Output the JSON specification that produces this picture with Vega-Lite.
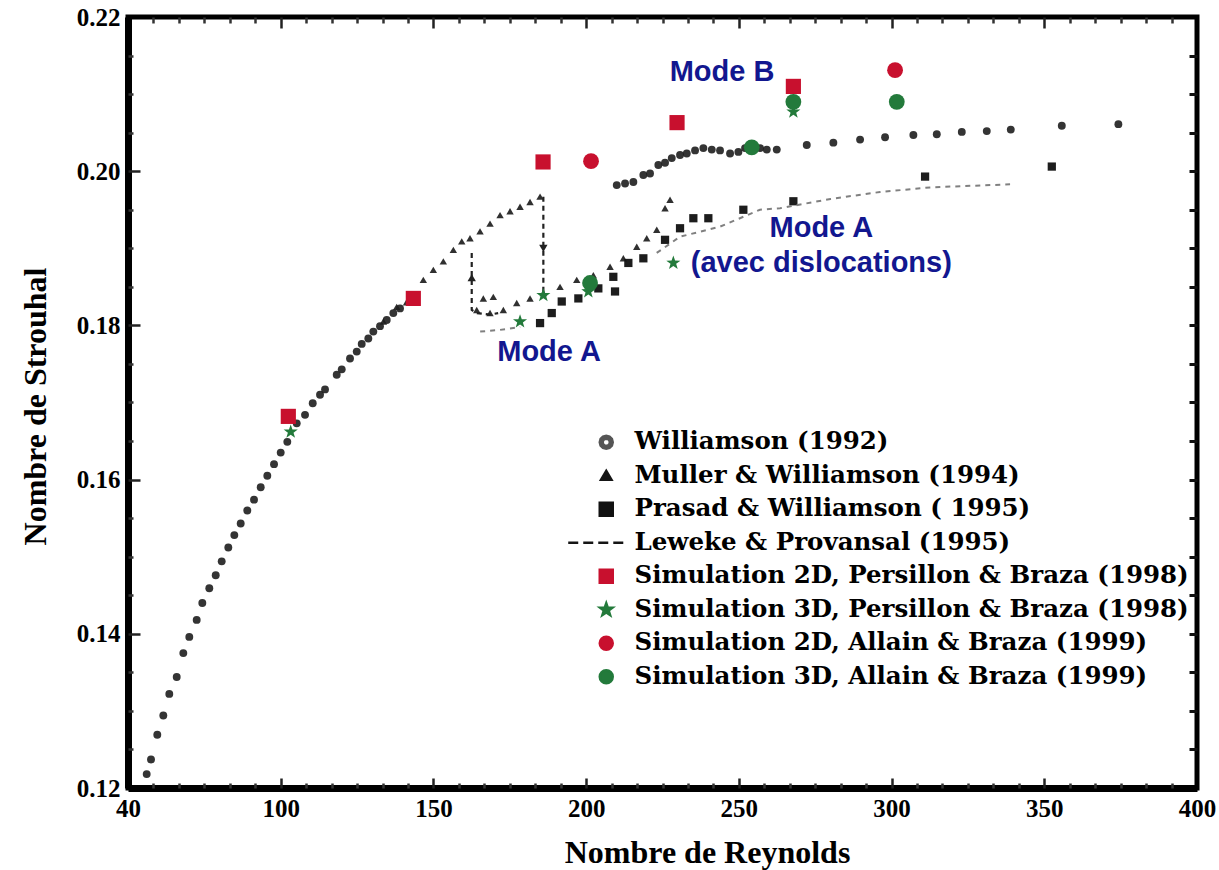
{
  "$schema": "https://vega.github.io/schema/vega-lite/v6.json",
  "width": 1069,
  "height": 771,
  "autosize": {"type": "none"},
  "padding": {"left": 128, "top": 17, "right": 22, "bottom": 82},
  "background": "white",
  "config": {
    "view": {"stroke": "black", "strokeWidth": 5},
    "axis": {"grid": false, "labelFont": "Liberation Serif", "labelFontWeight": "bold", "labelFontSize": 25, "labelColor": "black", "titleFont": "Liberation Serif", "titleFontWeight": "bold", "titleFontSize": 32, "titleColor": "black"}
  },
  "resolve": {"axis": {"x": "independent", "y": "independent"}},
  "datasets": {
    "williamson": [
      {"Re": 56.12, "St": 0.1218}, {"Re": 57.53, "St": 0.1237}, {"Re": 59.59, "St": 0.1269}, {"Re": 61.56, "St": 0.1294},
      {"Re": 63.52, "St": 0.1322}, {"Re": 65.95, "St": 0.1344}, {"Re": 68.11, "St": 0.1375}, {"Re": 70.07, "St": 0.1396},
      {"Re": 72.49, "St": 0.1418}, {"Re": 74.33, "St": 0.144}, {"Re": 76.62, "St": 0.1459}, {"Re": 78.72, "St": 0.1476},
      {"Re": 80.68, "St": 0.1494}, {"Re": 82.84, "St": 0.1512}, {"Re": 84.81, "St": 0.1528}, {"Re": 86.9, "St": 0.1543},
      {"Re": 89.06, "St": 0.156}, {"Re": 91.26, "St": 0.1574}, {"Re": 93.45, "St": 0.159}, {"Re": 95.61, "St": 0.1605},
      {"Re": 97.81, "St": 0.162}, {"Re": 100.0, "St": 0.1635}, {"Re": 102.16, "St": 0.1649}, {"Re": 105.24, "St": 0.1673},
      {"Re": 107.96, "St": 0.1684}, {"Re": 110.48, "St": 0.1699}, {"Re": 112.87, "St": 0.171}, {"Re": 114.51, "St": 0.1717},
      {"Re": 118.34, "St": 0.1736}, {"Re": 119.98, "St": 0.1743}, {"Re": 122.69, "St": 0.1757}, {"Re": 124.89, "St": 0.1766},
      {"Re": 126.52, "St": 0.1776}, {"Re": 128.68, "St": 0.1783}, {"Re": 130.32, "St": 0.1792}, {"Re": 132.51, "St": 0.1799},
      {"Re": 134.71, "St": 0.1807}, {"Re": 136.87, "St": 0.1816}, {"Re": 139.06, "St": 0.1822},
      {"Re": 210.02, "St": 0.1982}, {"Re": 212.74, "St": 0.1984}, {"Re": 215.46, "St": 0.1986}, {"Re": 218.73, "St": 0.1995},
      {"Re": 220.92, "St": 0.1997}, {"Re": 223.64, "St": 0.2008}, {"Re": 225.83, "St": 0.2011}, {"Re": 228.03, "St": 0.2017},
      {"Re": 230.74, "St": 0.2021}, {"Re": 232.94, "St": 0.2023}, {"Re": 235.66, "St": 0.2027}, {"Re": 238.38, "St": 0.203},
      {"Re": 241.13, "St": 0.2028}, {"Re": 243.84, "St": 0.2027}, {"Re": 247.12, "St": 0.2023}, {"Re": 249.84, "St": 0.2025},
      {"Re": 252.03, "St": 0.203}, {"Re": 256.94, "St": 0.203}, {"Re": 259.14, "St": 0.2028}, {"Re": 262.41, "St": 0.2028},
      {"Re": 272.23, "St": 0.2034}, {"Re": 280.94, "St": 0.2037}, {"Re": 289.69, "St": 0.2041}, {"Re": 297.87, "St": 0.2044},
      {"Re": 307.14, "St": 0.2047}, {"Re": 314.8, "St": 0.2048}, {"Re": 322.99, "St": 0.2051}, {"Re": 331.17, "St": 0.2052},
      {"Re": 339.03, "St": 0.2054}, {"Re": 355.73, "St": 0.2059}, {"Re": 374.26, "St": 0.2061}
    ],
    "muller": [
      {"Re": 133.6, "St": 0.1805}, {"Re": 137.98, "St": 0.1824}, {"Re": 141.2, "St": 0.183}, {"Re": 146.69, "St": 0.1859},
      {"Re": 149.97, "St": 0.1872}, {"Re": 153.24, "St": 0.1883}, {"Re": 156.52, "St": 0.1898}, {"Re": 159.27, "St": 0.1909},
      {"Re": 161.98, "St": 0.1913}, {"Re": 165.26, "St": 0.1922}, {"Re": 168.53, "St": 0.1932}, {"Re": 171.81, "St": 0.1943},
      {"Re": 175.08, "St": 0.1948}, {"Re": 178.36, "St": 0.1954}, {"Re": 181.63, "St": 0.196}, {"Re": 184.91, "St": 0.1967},
      {"Re": 164.18, "St": 0.182}, {"Re": 166.34, "St": 0.1835}, {"Re": 169.61, "St": 0.1837}, {"Re": 168.53, "St": 0.1816},
      {"Re": 172.89, "St": 0.182}, {"Re": 177.27, "St": 0.1829}, {"Re": 181.63, "St": 0.1835}, {"Re": 185.99, "St": 0.1842},
      {"Re": 191.45, "St": 0.185}, {"Re": 196.92, "St": 0.1859}, {"Re": 202.36, "St": 0.1865}, {"Re": 207.83, "St": 0.1876},
      {"Re": 212.18, "St": 0.1887}, {"Re": 216.57, "St": 0.1902}, {"Re": 219.84, "St": 0.1913}, {"Re": 223.12, "St": 0.1924},
      {"Re": 225.83, "St": 0.1952}, {"Re": 227.47, "St": 0.1963}
    ],
    "prasad": [
      {"Re": 184.91, "St": 0.1803}, {"Re": 188.74, "St": 0.1816}, {"Re": 192.01, "St": 0.1831}, {"Re": 197.45, "St": 0.1835},
      {"Re": 203.99, "St": 0.1848}, {"Re": 208.9, "St": 0.1863}, {"Re": 209.46, "St": 0.1844}, {"Re": 213.82, "St": 0.1881},
      {"Re": 218.73, "St": 0.1887}, {"Re": 225.83, "St": 0.1911}, {"Re": 230.74, "St": 0.1926}, {"Re": 235.1, "St": 0.1939},
      {"Re": 240.01, "St": 0.1939}, {"Re": 251.47, "St": 0.195}, {"Re": 267.85, "St": 0.1961}, {"Re": 310.97, "St": 0.1993},
      {"Re": 352.46, "St": 0.2006}
    ],
    "leweke": [
      {"Re": 165.3, "St": 0.1792, "seg": "a"}, {"Re": 171.5, "St": 0.1794, "seg": "a"}, {"Re": 178.4, "St": 0.1798, "seg": "a"},
      {"Re": 223.1, "St": 0.1894, "seg": "b"}, {"Re": 230.7, "St": 0.1915, "seg": "b"}, {"Re": 243.8, "St": 0.1928, "seg": "b"},
      {"Re": 256.9, "St": 0.195, "seg": "b"}, {"Re": 263.5, "St": 0.1952, "seg": "b"}, {"Re": 280, "St": 0.1964, "seg": "b"},
      {"Re": 296.2, "St": 0.1973, "seg": "b"}, {"Re": 312.6, "St": 0.1979, "seg": "b"}, {"Re": 338.8, "St": 0.1983, "seg": "b"}
    ],
    "hyst": [
      {"Re": 185.99, "St": 0.1967, "seg": "R", "o": 1}, {"Re": 185.99, "St": 0.1842, "seg": "R", "o": 2},
      {"Re": 162.54, "St": 0.1894, "seg": "L", "o": 1}, {"Re": 162.54, "St": 0.182, "seg": "L", "o": 2},
      {"Re": 164.2, "St": 0.1816, "seg": "L", "o": 3}, {"Re": 168.5, "St": 0.1814, "seg": "L", "o": 4},
      {"Re": 171.2, "St": 0.1816, "seg": "L", "o": 5}
    ],
    "arrows": [
      {"Re": 185.99, "St": 0.19, "dir": "down"},
      {"Re": 162.54, "St": 0.1862, "dir": "up"}
    ],
    "sims": [
      {"Re": 103.27, "St": 0.1662, "series": "3DP"}, {"Re": 178.36, "St": 0.1805, "series": "3DP"},
      {"Re": 185.99, "St": 0.1839, "series": "3DP"}, {"Re": 200.72, "St": 0.1844, "series": "3DP"},
      {"Re": 228.55, "St": 0.1881, "series": "3DP"}, {"Re": 267.85, "St": 0.2077, "series": "3DP"},
      {"Re": 201.28, "St": 0.1855, "series": "3DA"}, {"Re": 254.22, "St": 0.2031, "series": "3DA"},
      {"Re": 267.85, "St": 0.209, "series": "3DA"}, {"Re": 301.7, "St": 0.209, "series": "3DA"},
      {"Re": 102.49, "St": 0.1682, "series": "2DP"}, {"Re": 143.42, "St": 0.1835, "series": "2DP"},
      {"Re": 185.89, "St": 0.2012, "series": "2DP"}, {"Re": 229.76, "St": 0.2063, "series": "2DP"},
      {"Re": 267.85, "St": 0.211, "series": "2DP"},
      {"Re": 201.6, "St": 0.2013, "series": "2DA"}, {"Re": 301.15, "St": 0.2131, "series": "2DA"}
    ],
    "notes": [
      {"Re": 244.5, "St": 0.2129, "label": "Mode B"},
      {"Re": 187.85, "St": 0.1766, "label": "Mode A"},
      {"Re": 277, "St": 0.1926, "label": "Mode A"},
      {"Re": 277, "St": 0.1881, "label": "(avec dislocations)"}
    ],
    "keyrows": [
      {"series": "Williamson (1992)"},
      {"series": "Muller & Williamson (1994)"},
      {"series": "Prasad & Williamson ( 1995)"},
      {"series": "Leweke & Provansal (1995)"},
      {"series": "Simulation 2D, Persillon & Braza (1998)"},
      {"series": "Simulation 3D, Persillon & Braza (1998)"},
      {"series": "Simulation 2D, Allain & Braza (1999)"},
      {"series": "Simulation 3D, Allain & Braza (1999)"}
    ]
  },
  "layer": [
    {
      "data": {"name": "williamson"},
      "mark": {"type": "point", "filled": true, "shape": "circle", "size": 62, "color": "#1e1e1e", "opacity": 0.9},
      "encoding": {
        "x": {"field": "Re", "type": "quantitative", "scale": {"domain": [50, 400], "nice": false, "zero": false},
          "axis": {"orient": "bottom", "values": [50, 100, 150, 200, 250, 300, 350, 400], "labelExpr": "datum.value == 50 ? '40' : datum.label", "ticks": false, "domain": true, "domainColor": "black", "domainWidth": 7, "labelPadding": 8, "labelFlush": false, "labelOverlap": false, "title": "Nombre de Reynolds", "titleX": 579, "titleY": 64, "titleBaseline": "middle", "titleAlign": "center"}},
        "y": {"field": "St", "type": "quantitative", "scale": {"domain": [0.12, 0.22], "nice": false, "zero": false},
          "axis": {"orient": "left", "values": [0.12, 0.14, 0.16, 0.18, 0.2, 0.22], "format": ".2f", "ticks": false, "domain": true, "domainColor": "black", "domainWidth": 7, "labelPadding": 8, "labelFlush": false, "labelOverlap": false, "title": "Nombre de Strouhal", "titleX": -93, "titleY": 389, "titleAngle": 270, "titleBaseline": "middle", "titleAlign": "center"}}
      }
    },
    {
      "data": {"name": "muller"},
      "mark": {"type": "point", "filled": true, "shape": "triangle-up", "size": 55, "color": "#1e1e1e", "opacity": 0.92},
      "encoding": {
        "x": {"field": "Re", "type": "quantitative",
          "axis": {"orient": "bottom", "offset": -10, "values": [100, 150, 200, 250, 300, 350], "labels": false, "domain": false, "ticks": true, "tickSize": 10, "tickWidth": 2.5, "tickColor": "#222", "title": null}},
        "y": {"field": "St", "type": "quantitative",
          "axis": {"orient": "left", "offset": -12, "values": [0.14, 0.16, 0.18, 0.2], "labels": false, "domain": false, "ticks": true, "tickSize": 12, "tickWidth": 2.5, "tickColor": "#222", "title": null}}
      }
    },
    {
      "data": {"name": "prasad"},
      "mark": {"type": "point", "filled": true, "shape": "square", "size": 68, "color": "#111111", "opacity": 0.95},
      "encoding": {
        "x": {"field": "Re", "type": "quantitative",
          "axis": {"orient": "bottom", "offset": -5, "values": [58.333, 66.667, 75, 83.333, 91.667, 108.333, 116.667, 125, 133.333, 141.667, 158.333, 166.667, 175, 183.333, 191.667, 208.333, 216.667, 225, 233.333, 241.667, 258.333, 266.667, 275, 283.333, 291.667, 308.333, 316.667, 325, 333.333, 341.667, 358.333, 366.667, 375, 383.333, 391.667], "labels": false, "domain": false, "ticks": true, "tickSize": 5, "tickWidth": 2.5, "tickColor": "#333", "title": null}},
        "y": {"field": "St", "type": "quantitative",
          "axis": {"orient": "left", "offset": -5, "values": [0.125, 0.13, 0.135, 0.145, 0.15, 0.155, 0.165, 0.17, 0.175, 0.185, 0.19, 0.195, 0.205, 0.21, 0.215], "labels": false, "domain": false, "ticks": true, "tickSize": 5, "tickWidth": 2.5, "tickColor": "#333", "title": null}}
      }
    },
    {
      "data": {"name": "leweke"},
      "mark": {"type": "line", "stroke": "#808080", "strokeWidth": 2, "strokeDash": [5, 5]},
      "encoding": {
        "x": {"field": "Re", "type": "quantitative",
          "axis": {"orient": "top", "offset": -6, "values": [58.333, 66.667, 75, 83.333, 91.667, 108.333, 116.667, 125, 133.333, 141.667, 158.333, 166.667, 175, 183.333, 191.667, 208.333, 216.667, 225, 233.333, 241.667, 258.333, 266.667, 275, 283.333, 291.667, 308.333, 316.667, 325, 333.333, 341.667, 358.333, 366.667, 375, 383.333, 391.667], "labels": false, "domain": false, "ticks": true, "tickSize": 6, "tickWidth": 2.5, "tickColor": "#333", "title": null}},
        "y": {"field": "St", "type": "quantitative", "axis": null},
        "detail": {"field": "seg", "type": "nominal"}
      }
    },
    {
      "data": {"name": "hyst"},
      "mark": {"type": "line", "stroke": "#222222", "strokeWidth": 2.2, "strokeDash": [5, 4]},
      "encoding": {
        "x": {"field": "Re", "type": "quantitative",
          "axis": {"orient": "top", "offset": -11, "values": [100, 150, 200, 250, 300, 350], "labels": false, "domain": false, "ticks": true, "tickSize": 11, "tickWidth": 2.5, "tickColor": "#222", "title": null}},
        "y": {"field": "St", "type": "quantitative",
          "axis": {"orient": "right", "offset": -8, "values": [0.125, 0.13, 0.135, 0.14, 0.145, 0.15, 0.155, 0.16, 0.165, 0.17, 0.175, 0.18, 0.185, 0.19, 0.195, 0.2, 0.205, 0.21, 0.215], "labels": false, "domain": false, "ticks": true, "tickSize": 8, "tickWidth": 3, "tickColor": "#111", "title": null}},
        "detail": {"field": "seg", "type": "nominal"},
        "order": {"field": "o", "type": "quantitative"}
      }
    },
    {
      "data": {"name": "arrows"},
      "transform": [{"filter": "datum.dir == 'down'"}],
      "mark": {"type": "point", "filled": true, "shape": "triangle-down", "size": 70, "color": "#222222", "opacity": 1},
      "encoding": {
        "x": {"field": "Re", "type": "quantitative", "axis": null},
        "y": {"field": "St", "type": "quantitative", "axis": null}
      }
    },
    {
      "data": {"name": "arrows"},
      "transform": [{"filter": "datum.dir == 'up'"}],
      "mark": {"type": "point", "filled": true, "shape": "triangle-up", "size": 70, "color": "#222222", "opacity": 1},
      "encoding": {
        "x": {"field": "Re", "type": "quantitative", "axis": null},
        "y": {"field": "St", "type": "quantitative", "axis": null}
      }
    },
    {
      "data": {"name": "sims"},
      "transform": [{"filter": "datum.series == '3DP'"}],
      "mark": {"type": "point", "filled": true, "shape": "M0,-1L0.235,-0.324L0.951,-0.309L0.38,0.124L0.588,0.809L0,0.4L-0.588,0.809L-0.38,0.124L-0.951,-0.309L-0.235,-0.324Z", "size": 220, "color": "#237a3b", "opacity": 1},
      "encoding": {
        "x": {"field": "Re", "type": "quantitative", "axis": null},
        "y": {"field": "St", "type": "quantitative", "axis": null}
      }
    },
    {
      "data": {"name": "sims"},
      "transform": [{"filter": "datum.series == '3DA'"}],
      "mark": {"type": "point", "filled": true, "shape": "circle", "size": 250, "color": "#237a3b", "opacity": 1},
      "encoding": {
        "x": {"field": "Re", "type": "quantitative", "axis": null},
        "y": {"field": "St", "type": "quantitative", "axis": null}
      }
    },
    {
      "data": {"name": "sims"},
      "transform": [{"filter": "datum.series == '2DP'"}],
      "mark": {"type": "point", "filled": true, "shape": "square", "size": 230, "color": "#c8102e", "opacity": 1},
      "encoding": {
        "x": {"field": "Re", "type": "quantitative", "axis": null},
        "y": {"field": "St", "type": "quantitative", "axis": null}
      }
    },
    {
      "data": {"name": "sims"},
      "transform": [{"filter": "datum.series == '2DA'"}],
      "mark": {"type": "point", "filled": true, "shape": "circle", "size": 250, "color": "#c8102e", "opacity": 1},
      "encoding": {
        "x": {"field": "Re", "type": "quantitative", "axis": null},
        "y": {"field": "St", "type": "quantitative", "axis": null}
      }
    },
    {
      "data": {"name": "notes"},
      "mark": {"type": "text", "font": "Liberation Sans", "fontWeight": "bold", "fontSize": 29, "color": "#12178f", "align": "center", "baseline": "middle"},
      "encoding": {
        "x": {"field": "Re", "type": "quantitative", "axis": null},
        "y": {"field": "St", "type": "quantitative", "axis": null},
        "text": {"field": "label", "type": "nominal"}
      }
    },
    {
      "data": {"name": "keyrows"},
      "mark": {"type": "point", "filled": true, "strokeWidth": 2.5},
      "encoding": {
        "fill": {"field": "series", "type": "nominal",
          "scale": {"domain": ["Williamson (1992)", "Muller & Williamson (1994)", "Prasad & Williamson ( 1995)", "Leweke & Provansal (1995)", "Simulation 2D, Persillon & Braza (1998)", "Simulation 3D, Persillon & Braza (1998)", "Simulation 2D, Allain & Braza (1999)", "Simulation 3D, Allain & Braza (1999)"],
            "range": ["#555555", "#151515", "#111111", "#151515", "#c8102e", "#237a3b", "#c8102e", "#237a3b"]},
          "legend": {"orient": "none", "legendX": 466, "legendY": 413, "title": null, "padding": 0, "labelFont": "DejaVu Serif", "labelFontWeight": "bold", "labelFontSize": 24.5, "labelColor": "black", "labelLimit": 800, "labelOffset": 16, "rowPadding": 8.5, "symbolSize": 169, "symbolStrokeWidth": 2.5, "symbolOpacity": 1}},
        "stroke": {"field": "series", "type": "nominal",
          "scale": {"domain": ["Williamson (1992)", "Muller & Williamson (1994)", "Prasad & Williamson ( 1995)", "Leweke & Provansal (1995)", "Simulation 2D, Persillon & Braza (1998)", "Simulation 3D, Persillon & Braza (1998)", "Simulation 2D, Allain & Braza (1999)", "Simulation 3D, Allain & Braza (1999)"],
            "range": ["#555555", "#151515", "#111111", "#151515", "#c8102e", "#237a3b", "#c8102e", "#237a3b"]},
          "legend": {"orient": "none", "legendX": 466, "legendY": 413, "title": null, "padding": 0, "labelFont": "DejaVu Serif", "labelFontWeight": "bold", "labelFontSize": 24.5, "labelColor": "black", "labelLimit": 800, "labelOffset": 16, "rowPadding": 8.5, "symbolSize": 169, "symbolStrokeWidth": 2.5, "symbolOpacity": 1}},
        "shape": {"field": "series", "type": "nominal",
          "scale": {"domain": ["Williamson (1992)", "Muller & Williamson (1994)", "Prasad & Williamson ( 1995)", "Leweke & Provansal (1995)", "Simulation 2D, Persillon & Braza (1998)", "Simulation 3D, Persillon & Braza (1998)", "Simulation 2D, Allain & Braza (1999)", "Simulation 3D, Allain & Braza (1999)"],
            "range": ["M-1,0L-0.87,-0.5L-0.5,-0.87L0,-1L0.5,-0.87L0.87,-0.5L1,0L0.87,0.5L0.5,0.87L0,1L-0.5,0.87L-0.87,0.5ZM-0.55,0L-0.48,0.28L-0.28,0.48L0,0.55L0.28,0.48L0.48,0.28L0.55,0L0.48,-0.28L0.28,-0.48L0,-0.55L-0.28,-0.48L-0.48,-0.28Z", "M0,-0.75L0.8,0.6L-0.8,0.6Z", "square", "M-5.85,0L-4.31,0M-3.54,0L-2,0M-1.23,0L0.31,0M1.08,0L2.62,0", "square", "M0,-1L0.235,-0.324L0.951,-0.309L0.38,0.124L0.588,0.809L0,0.4L-0.588,0.809L-0.38,0.124L-0.951,-0.309L-0.235,-0.324Z", "circle", "circle"]},
          "legend": {"orient": "none", "legendX": 466, "legendY": 413, "title": null, "padding": 0, "labelFont": "DejaVu Serif", "labelFontWeight": "bold", "labelFontSize": 24.5, "labelColor": "black", "labelLimit": 800, "labelOffset": 16, "rowPadding": 8.5, "symbolSize": 169, "symbolStrokeWidth": 2.5, "symbolOpacity": 1}},
        "opacity": {"value": 0}
      }
    }
  ]
}
